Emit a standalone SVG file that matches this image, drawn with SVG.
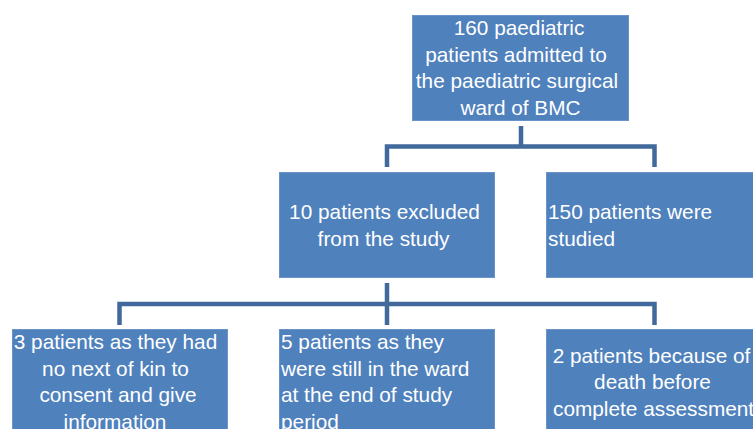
<svg xmlns="http://www.w3.org/2000/svg" width="753" height="429" viewBox="0 0 753 429">
<style>
.box{fill:#4f81bd;stroke:#6a94c8;stroke-width:1}
.t{font-family:"Liberation Sans",Arial,sans-serif;font-size:20.8px;fill:#ffffff}
.c{text-anchor:middle}
.conn{fill:none;stroke:#41699c;stroke-width:4.5;stroke-linejoin:miter;stroke-linecap:butt}
</style>
<rect width="753" height="429" fill="#ffffff"/>
<g id="connectors">
<path class="conn" d="M521 126 V146.5 M387 167 V146.5 H654.5 V167"/>
<path class="conn" d="M387 283 V304 M119.5 325 V304 H654.5 V325 M387 304 V325"/>
</g>
<g id="n160">
<rect class="box" x="412.5" y="15.5" width="216" height="105"/>
<text class="t c" x="519" y="35">160 paediatric</text>
<text class="t c" x="516" y="61.5">patients admitted to</text>
<text class="t c" x="517" y="88">the paediatric surgical</text>
<text class="t c" x="520.5" y="114.5">ward of BMC</text>
</g>
<g id="n10">
<rect class="box" x="279.5" y="172.5" width="215" height="105"/>
<text class="t c" x="384.5" y="219">10 patients excluded</text>
<text class="t c" x="383.5" y="246">from the study</text>
</g>
<g id="n150">
<rect class="box" x="546.5" y="172.5" width="216" height="105"/>
<text class="t" x="548" y="219">150 patients were</text>
<text class="t" x="548" y="246">studied</text>
</g>
<g id="n3">
<rect class="box" x="12.5" y="329.5" width="215" height="110"/>
<text class="t c" x="115.5" y="349">3 patients as they had</text>
<text class="t c" x="115.5" y="375.5">no next of kin to</text>
<text class="t c" x="118" y="402">consent and give</text>
<text class="t c" x="115" y="428.5">information</text>
</g>
<g id="n5">
<rect class="box" x="279.5" y="329.5" width="215" height="110"/>
<text class="t" x="281" y="349">5 patients as they</text>
<text class="t" x="281" y="375.5">were still in the ward</text>
<text class="t" x="281" y="402">at the end of study</text>
<text class="t" x="281" y="428.5">period</text>
</g>
<g id="n2">
<rect class="box" x="546.5" y="329.5" width="216" height="110"/>
<text class="t c" x="651.5" y="363">2 patients because of</text>
<text class="t c" x="652.5" y="389">death before</text>
<text class="t" x="553" y="415.5">complete assessment</text>
</g>
</svg>
